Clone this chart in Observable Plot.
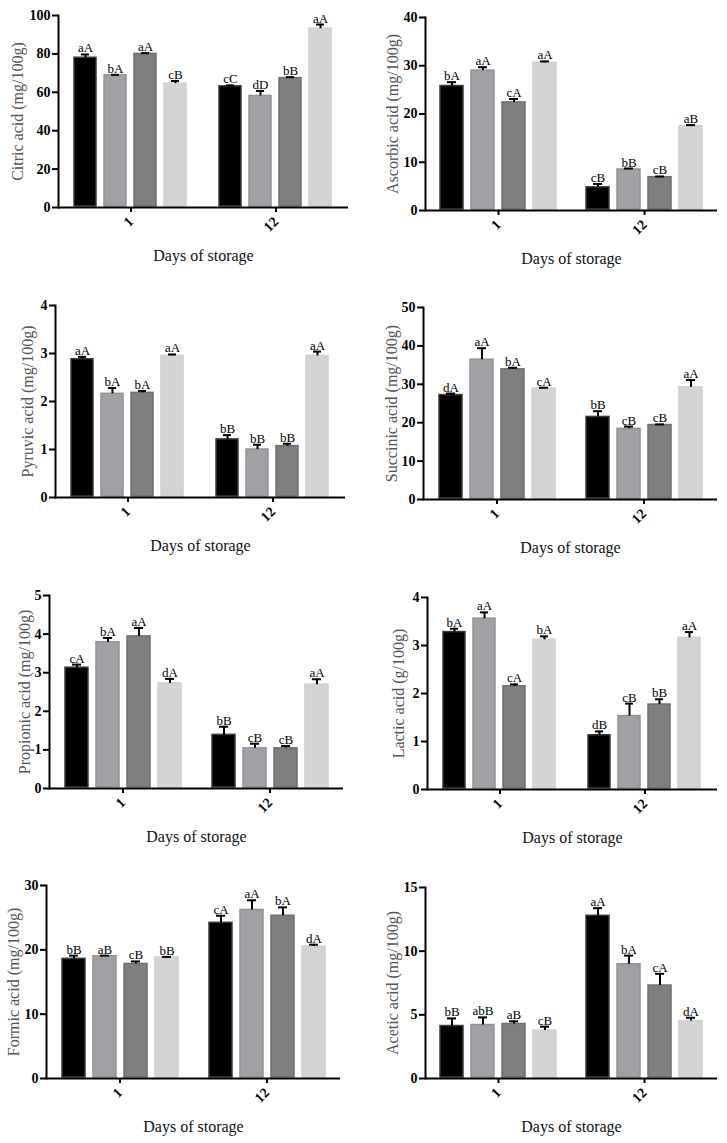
<!DOCTYPE html>
<html><head><meta charset="utf-8">
<script src="https://cdn.jsdelivr.net/npm/d3@7"></script>
<script src="https://cdn.jsdelivr.net/npm/@observablehq/plot@0.6"></script>
<style>
body{margin:0;background:#fff;}
#page{position:relative;width:727px;height:1143px;overflow:hidden;}
.panel{position:absolute;}
</style></head><body><div id="page"></div>
<script>
// ---- data ----
const days = ["1", "12"];
const treatments = ["T1", "T2", "T3", "T4"];

const citricMean = [78.0, 68.8, 80.0, 64.5, 63.1, 58.1, 67.4, 93.1];
const citricSD   = [1.7, 0.3, 0.4, 1.4, 0.5, 2.6, 0.5, 2.2];
const citricLab  = ["aA","bA","aA","cB","cC","dD","bB","aA"];

const ascorbicMean = [25.8, 29.0, 22.4, 30.6, 4.8, 8.5, 6.9, 17.5];
const ascorbicSD   = [0.8, 0.7, 0.7, 0.3, 0.7, 0.2, 0.15, 0.2];
const ascorbicLab  = ["bA","aA","cA","aA","cB","bB","cB","aB"];

const pyruvicMean = [2.88, 2.16, 2.18, 2.95, 1.21, 1.00, 1.07, 2.95];
const pyruvicSD   = [0.05, 0.12, 0.04, 0.03, 0.09, 0.10, 0.05, 0.09];
const pyruvicLab  = ["aA","bA","bA","aA","bB","bB","bB","aA"];

const succinicMean = [27.2, 36.4, 33.9, 28.9, 21.5, 18.4, 19.4, 29.2];
const succinicSD   = [0.4, 3.0, 0.4, 0.2, 1.5, 0.6, 0.15, 1.9];
const succinicLab  = ["dA","aA","bA","cA","bB","cB","cB","aA"];

const propionicMean = [3.13, 3.79, 3.94, 2.72, 1.39, 1.04, 1.04, 2.69];
const propionicSD   = [0.08, 0.11, 0.22, 0.12, 0.21, 0.12, 0.06, 0.14];
const propionicLab  = ["cA","bA","aA","dA","bB","cB","cB","aA"];

const lacticMean = [3.28, 3.56, 2.15, 3.12, 1.13, 1.53, 1.77, 3.16];
const lacticSD   = [0.07, 0.13, 0.04, 0.07, 0.08, 0.26, 0.11, 0.12];
const lacticLab  = ["bA","aA","cA","bA","dB","cB","bB","aA"];

const formicMean = [18.6, 19.0, 17.8, 18.8, 24.2, 26.2, 25.3, 20.5];
const formicSD   = [0.5, 0.1, 0.4, 0.1, 1.1, 1.5, 1.3, 0.3];
const formicLab  = ["bB","aB","cB","bB","cA","aA","bA","dA"];

const aceticMean = [4.12, 4.20, 4.28, 3.76, 12.78, 8.97, 7.30, 4.51];
const aceticSD   = [0.6, 0.6, 0.21, 0.31, 0.6, 0.68, 0.92, 0.26];
const aceticLab  = ["bB","abB","aB","cB","aA","bA","cA","dA"];

const yLabels = ["Citric acid (mg/100g)", "Ascorbic acid (mg/100g)", "Pyruvic acid (mg/100g)", "Succinic acid (mg/100g)",
  "Propionic acid (mg/100g)", "Lactic acid (g/100g)", "Formic acid (mg/100g)", "Acetic acid (mg/100g)"];
const yTicks = [[0,20,40,60,80,100],[0,10,20,30,40],[0,1,2,3,4],[0,10,20,30,40,50],
  [0,1,2,3,4,5],[0,1,2,3,4],[0,10,20,30],[0,5,10,15]];
const xTitle = "Days of storage";

// ---- styles / layout ----
const fillColors = ["#000000", "#a1a1a5", "#7f7f7f", "#d4d4d4"];
const strokeColors = ["#3a3a3a", "#929296", "#6f6f6f", "#cfcfcf"];
const layout = [
  {left: 0,   axisX: 58,  right: 348, yTop: 15,  y0: 207, labelOffset: 47},
  {left: 364, axisX: 424, right: 717, yTop: 17,  y0: 210, labelOffset: 39},
  {left: 0,   axisX: 55,  right: 345, yTop: 305, y0: 497, labelOffset: 34},
  {left: 364, axisX: 423, right: 717, yTop: 307, y0: 499, labelOffset: 38},
  {left: 0,   axisX: 49,  right: 343, yTop: 595, y0: 788, labelOffset: 31},
  {left: 364, axisX: 427, right: 717, yTop: 597, y0: 789, labelOffset: 35},
  {left: 0,   axisX: 45,  right: 340, yTop: 885, y0: 1078, labelOffset: 39},
  {left: 364, axisX: 424, right: 717, yTop: 887, y0: 1078, labelOffset: 39}
];

const series = [
  [citricMean, citricSD, citricLab],
  [ascorbicMean, ascorbicSD, ascorbicLab],
  [pyruvicMean, pyruvicSD, pyruvicLab],
  [succinicMean, succinicSD, succinicLab],
  [propionicMean, propionicSD, propionicLab],
  [lacticMean, lacticSD, lacticLab],
  [formicMean, formicSD, formicLab],
  [aceticMean, aceticSD, aceticLab]
];

const serif = "'Liberation Serif', 'Times New Roman', serif";
const page = document.getElementById("page");
const mTop = 12, mBottom = 65;

series.forEach(([mean, sd, lab], p) => {
  const L = layout[p];
  const rows = mean.map((v, i) => ({
    day: days[Math.floor(i / 4)],
    t: treatments[i % 4],
    ti: i % 4,
    v, hi: v + sd[i], lab: lab[i]
  }));
  const ticks = yTicks[p];
  const width = (L.left === 0 ? 364 : 363);
  const chart = Plot.plot({
    width,
    height: mTop + (L.y0 - L.yTop) + mBottom,
    marginLeft: L.axisX - L.left,
    marginRight: width - (L.right - L.left),
    marginTop: mTop,
    marginBottom: mBottom,
    style: {fontFamily: serif, background: "transparent", overflow: "visible", color: "#000"},
    fx: {domain: days, padding: 0},
    x: {domain: treatments, paddingInner: 0.26, paddingOuter: 0.47, axis: null},
    y: {domain: [0, ticks[ticks.length - 1]]},
    marks: [
      Plot.barY(rows, {fx: "day", x: "t", y: "v",
        fill: d => fillColors[d.ti], stroke: d => strokeColors[d.ti], strokeWidth: 1.5, insetBottom: 1}),
      Plot.ruleX(rows, {fx: "day", x: "t", y1: "v", y2: "hi", stroke: "#000", strokeWidth: 2}),
      Plot.tickY(rows, {fx: "day", x: "t", y: "hi", stroke: "#000", strokeWidth: 2, insetLeft: 7, insetRight: 7}),
      Plot.text(rows, {fx: "day", x: "t", y: "hi", text: "lab", lineAnchor: "bottom", dy: -2,
        fontSize: 13, fontFamily: serif, fill: "#000"}),
      Plot.ruleY([0], {stroke: "#000", strokeWidth: 2}),
      Plot.frame({anchor: "left", facetAnchor: "left", stroke: "#000", strokeWidth: 2}),
      Plot.axisY({ticks, tickFormat: d3.format("d"), tickSize: 6, tickPadding: 2, strokeWidth: 2, fontWeight: "bold",
        fontSize: 14, fontFamily: serif, label: null}),
      Plot.axisY({ticks: [], tickSize: 0, label: yLabels[p], labelAnchor: "center", labelArrow: "none",
        labelOffset: L.labelOffset, fontSize: 16, fontFamily: serif, fill: "#555"}),
      Plot.axisFx({anchor: "bottom", tickSize: 5, strokeWidth: 2, tickRotate: -45, tickPadding: 7, fontWeight: "bold",
        fontSize: 14, fontFamily: serif, label: null}),
      Plot.axisFx({anchor: "bottom", ticks: [], tickSize: 0, label: xTitle, labelAnchor: "center", labelArrow: "none",
        labelOffset: 53, fontSize: 16, fontFamily: serif, fill: "#111"})
    ]
  });
  const div = document.createElement("div");
  div.className = "panel";
  div.style.left = L.left + "px";
  div.style.top = (L.yTop - mTop) + "px";
  div.appendChild(chart);
  page.appendChild(div);
});
</script>
</body></html>
